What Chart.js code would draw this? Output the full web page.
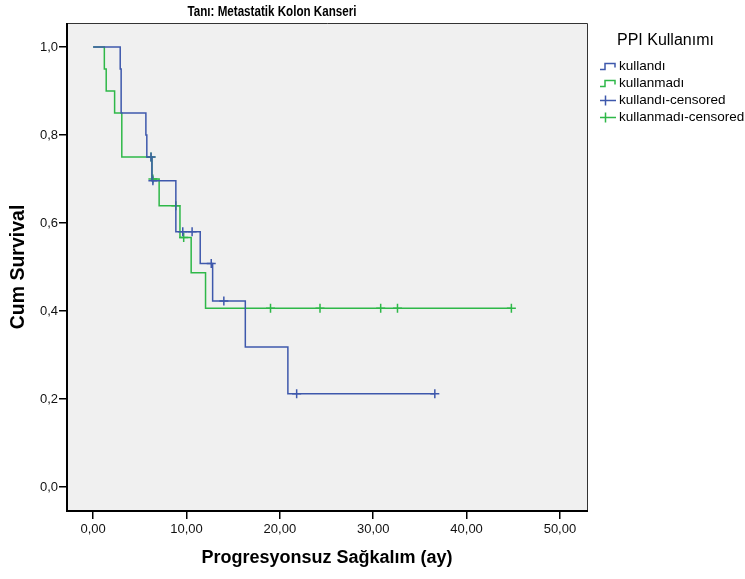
<!DOCTYPE html>
<html>
<head>
<meta charset="utf-8">
<script src="https://cdn.jsdelivr.net/npm/chart.js@4.4.0/dist/chart.umd.min.js"></script>
<style>
    html, body { margin: 0; padding: 0; background: #fff; }
</style>
</head>
<body>
<canvas id="km" width="745" height="579"></canvas>
<script>
// 曲線データ（時間 = ay, 累積生存率）
const usedTimes = [0, 2.9, 3.0, 5.65, 5.75, 6.3, 8.86, 11.47, 12.8, 16.3, 20.86, 36.6];
const usedSurv = [1, 0.95, 0.85, 0.80, 0.75, 0.696, 0.58, 0.508, 0.423, 0.318, 0.212, 0.212];
const usedCensored = [6.2, 6.4, 9.6, 10.6, 12.65, 14.0, 21.8, 36.6];

const notUsedTimes = [0, 1.2, 1.4, 2.3, 3.07, 6.3, 7.07, 9.3, 10.5, 12.04, 44.8];
const notUsedSurv = [1, 0.95, 0.90, 0.85, 0.75, 0.70, 0.639, 0.567, 0.487, 0.406, 0.406];
const notUsedCensored = [6.2, 6.4, 8.86, 9.7, 19.0, 24.3, 30.8, 32.6, 44.8];

const seriesLabels = ['kullandı', 'kullanmadı', 'kullandı-censored', 'kullanmadı-censored'];
const legendTitle = 'PPI Kullanımı';
const chartTitle = 'Tanı: Metastatik Kolon Kanseri';
const xTitle = 'Progresyonsuz Sağkalım (ay)';
const yTitle = 'Cum Survival';
const xTicks = [0, 10, 20, 30, 40, 50];
const yTicks = [0, 0.2, 0.4, 0.6, 0.8, 1.0];

const BLUE = '#3E58AC';
const GREEN = '#2EB848';

// ある時点の生存率（階段関数）
function survAt(times, surv, t) {
    let s = surv[0];
    for (let i = 0; i < times.length; i++) {
        if (times[i] <= t) s = surv[i];
    }
    return s;
}

function toPoints(xs, ys) {
    return xs.map((x, i) => ({ x: x, y: ys[i] }));
}

function censorPoints(times, surv, cens) {
    return cens.map(t => ({ x: t, y: survAt(times, surv, t) }));
}

// 背景と枠線
const framePlugin = {
    id: 'frame',
    beforeDraw(chart) {
        const { ctx, chartArea: a } = chart;
        ctx.save();
        ctx.fillStyle = '#fff';
        ctx.fillRect(0, 0, chart.width, chart.height);
        ctx.fillStyle = '#F0F0F0';
        ctx.fillRect(a.left, a.top, a.right - a.left, a.bottom - a.top);
        ctx.restore();
    },
    afterDraw(chart) {
        const { ctx, chartArea: a } = chart;
        ctx.save();
        ctx.strokeStyle = '#333';
        ctx.lineWidth = 1;
        ctx.beginPath();
        ctx.moveTo(a.left, a.top + 0.5);
        ctx.lineTo(a.right + 0.5, a.top + 0.5);
        ctx.lineTo(a.right + 0.5, a.bottom);
        ctx.stroke();
        ctx.strokeStyle = '#000';
        ctx.lineWidth = 2;
        ctx.beginPath();
        ctx.moveTo(a.left, a.top);
        ctx.lineTo(a.left, a.bottom);
        ctx.lineTo(a.right + 1, a.bottom);
        ctx.stroke();

        // タイトル（細字体の代わりに横方向を縮める）
        ctx.fillStyle = '#000';
        ctx.font = "bold 14px 'Liberation Sans', Arial, sans-serif";
        ctx.textAlign = 'center';
        ctx.textBaseline = 'middle';
        ctx.translate(272, 12);
        ctx.scale(0.83, 1);
        ctx.fillText(chartTitle, 0, 0);
        ctx.restore();
    }
};

// 凡例（階段アイコン付き）
const legendPlugin = {
    id: 'kmLegend',
    afterDraw(chart) {
        const ctx = chart.ctx;
        ctx.save();
        ctx.fillStyle = '#000';
        ctx.textAlign = 'left';
        ctx.textBaseline = 'middle';
        ctx.font = "16px 'Liberation Sans', Arial, sans-serif";
        ctx.fillText(legendTitle, 617, 41);

        ctx.font = "13.5px 'Liberation Sans', Arial, sans-serif";
        const rows = [66.5, 83.5, 100.5, 117.5];
        chart.data.datasets.forEach((ds, i) => {
            const y = rows[i];
            ctx.strokeStyle = ds.borderColor;
            ctx.lineWidth = 1.5;
            ctx.beginPath();
            if (i < 2) {
                ctx.moveTo(600, y + 3);
                ctx.lineTo(605, y + 3);
                ctx.lineTo(605, y - 3);
                ctx.lineTo(615, y - 3);
                ctx.lineTo(615, y + 1);
            } else {
                ctx.moveTo(600, y);
                ctx.lineTo(616, y);
                ctx.moveTo(605.5, y - 5);
                ctx.lineTo(605.5, y + 5);
            }
            ctx.stroke();
            ctx.fillText(ds.label, 619, y);
        });
        ctx.restore();
    }
};

const fmtY = v => v.toFixed(1).replace('.', ',');
const fmtX = v => v.toFixed(2).replace('.', ',');

new Chart(document.getElementById('km'), {
    type: 'line',
    data: {
        datasets: [
            {
                label: seriesLabels[0],
                data: toPoints(usedTimes, usedSurv),
                borderColor: BLUE,
                borderWidth: 1.5,
                stepped: 'before',
                pointRadius: 0,
                fill: false
            },
            {
                label: seriesLabels[1],
                data: toPoints(notUsedTimes, notUsedSurv),
                borderColor: GREEN,
                borderWidth: 1.5,
                stepped: 'before',
                pointRadius: 0,
                fill: false
            },
            {
                label: seriesLabels[2],
                data: censorPoints(usedTimes, usedSurv, usedCensored),
                borderColor: BLUE,
                backgroundColor: BLUE,
                showLine: false,
                pointStyle: 'cross',
                pointRadius: 4.5,
                pointBorderWidth: 1.5
            },
            {
                label: seriesLabels[3],
                data: censorPoints(notUsedTimes, notUsedSurv, notUsedCensored),
                borderColor: GREEN,
                backgroundColor: GREEN,
                showLine: false,
                pointStyle: 'cross',
                pointRadius: 4.5,
                pointBorderWidth: 1.5
            }
        ]
    },
    options: {
        responsive: false,
        animation: false,
        devicePixelRatio: 1,
        layout: { padding: { top: 23, right: 158, left: 0, bottom: 0 } },
        plugins: {
            legend: { display: false },
            title: { display: false },
            tooltip: { enabled: false }
        },
        scales: {
            x: {
                type: 'linear',
                min: -2.8,
                max: 52.9,
                afterBuildTicks: scale => { scale.ticks = xTicks.map(v => ({ value: v })); },
                afterFit: scale => { scale.height = 68; },
                grid: { drawOnChartArea: false, drawTicks: true, tickLength: 8, color: '#000', lineWidth: 1.5 },
                border: { display: false },
                ticks: {
                    color: '#111',
                    padding: 3,
                    maxRotation: 0,
                    font: { size: 13, family: "'Liberation Sans', Arial, sans-serif" },
                    callback: v => fmtX(v)
                },
                title: {
                    display: true,
                    text: xTitle,
                    color: '#000',
                    padding: { top: 0, bottom: 10 },
                    font: { size: 18, weight: 'bold', family: "'Liberation Sans', Arial, sans-serif" }
                }
            },
            y: {
                type: 'linear',
                min: -0.0545,
                max: 1.0545,
                afterBuildTicks: scale => { scale.ticks = yTicks.map(v => ({ value: v })); },
                afterFit: scale => { scale.width = 67; },
                grid: { drawOnChartArea: false, drawTicks: true, tickLength: 8, color: '#000', lineWidth: 1.5 },
                border: { display: false },
                ticks: {
                    color: '#111',
                    padding: 1,
                    font: { size: 13, family: "'Liberation Sans', Arial, sans-serif" },
                    callback: v => fmtY(v)
                },
                title: {
                    display: true,
                    text: yTitle,
                    color: '#000',
                    padding: { top: 7, bottom: 0 },
                    font: { size: 19.5, weight: 'bold', family: "'Liberation Sans', Arial, sans-serif" }
                }
            }
        }
    },
    plugins: [framePlugin, legendPlugin]
});
</script>
</body>
</html>
